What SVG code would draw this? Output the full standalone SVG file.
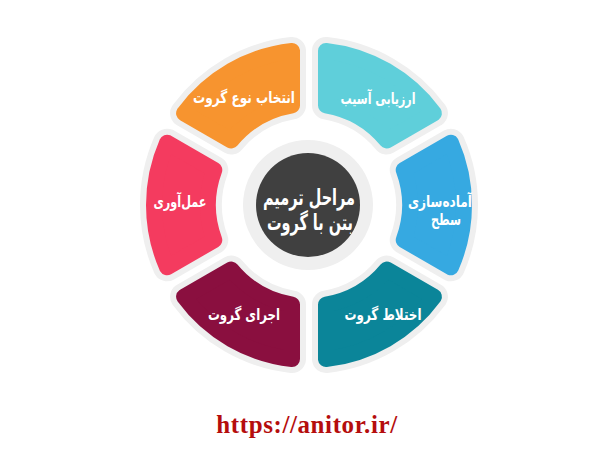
<svg xmlns="http://www.w3.org/2000/svg" xmlns:xlink="http://www.w3.org/1999/xlink" width="600" height="450" viewBox="0 0 600 450">
  <style>
    .border { fill: #efefef; stroke: #efefef; stroke-width: 28; stroke-linejoin: round; }
    .seg { stroke-width: 16; stroke-linejoin: round; }
    .lbl { font-family: "DejaVu Sans", sans-serif; font-weight: bold; font-size: 16px; fill: #ffffff; text-anchor: middle; }
    .ctr { font-family: "DejaVu Sans", sans-serif; font-weight: bold; font-size: 22px; fill: #ffffff; text-anchor: middle; }
    .url { font-family: "Liberation Serif", serif; font-weight: bold; font-size: 25px; fill: #b50d0d; text-anchor: middle; letter-spacing: 0.6px; }
  </style>
  <defs>
    <path id="seg" d="M403.72,169.94 L450.92,142.69 A155,155 0 0 1 450.92,267.31 L403.72,240.06 A101,101 0 0 0 403.72,169.94 Z"/>
  </defs>
  <rect width="600" height="450" fill="#ffffff"/>

  <g id="node-arzyabi">
    <use xlink:href="#seg" class="border" transform="rotate(-60 309 205)"/>
    <use xlink:href="#seg" class="seg" fill="#5fcfda" stroke="#5fcfda" transform="rotate(-60 309 205)"/>
    <text class="lbl" x="378" y="104" textLength="75" lengthAdjust="spacingAndGlyphs">ارزیابی آسیب</text>
  </g>
  <g id="node-amadesazi">
    <use xlink:href="#seg" class="border"/>
    <use xlink:href="#seg" class="seg" fill="#36a9e1" stroke="#36a9e1"/>
    <text class="lbl" x="440" y="207" textLength="64" lengthAdjust="spacingAndGlyphs">آماده‌سازی</text>
    <text class="lbl" x="446" y="225" textLength="30" lengthAdjust="spacingAndGlyphs">سطح</text>
  </g>
  <g id="node-ekhtelat">
    <use xlink:href="#seg" class="border" transform="rotate(60 309 205)"/>
    <use xlink:href="#seg" class="seg" fill="#0b8599" stroke="#0b8599" transform="rotate(60 309 205)"/>
    <text class="lbl" x="383" y="320" textLength="77" lengthAdjust="spacingAndGlyphs">اختلاط گروت</text>
  </g>
  <g id="node-ejra">
    <use xlink:href="#seg" class="border" transform="rotate(120 309 205)"/>
    <use xlink:href="#seg" class="seg" fill="#8a0f3f" stroke="#8a0f3f" transform="rotate(120 309 205)"/>
    <text class="lbl" x="244" y="320" textLength="72" lengthAdjust="spacingAndGlyphs">اجرای گروت</text>
  </g>
  <g id="node-amalavari">
    <use xlink:href="#seg" class="border" transform="rotate(180 309 205)"/>
    <use xlink:href="#seg" class="seg" fill="#f43b5f" stroke="#f43b5f" transform="rotate(180 309 205)"/>
    <text class="lbl" x="180" y="207" textLength="53" lengthAdjust="spacingAndGlyphs">عمل‌آوری</text>
  </g>
  <g id="node-entekhab">
    <use xlink:href="#seg" class="border" transform="rotate(240 309 205)"/>
    <use xlink:href="#seg" class="seg" fill="#f7942f" stroke="#f7942f" transform="rotate(240 309 205)"/>
    <text class="lbl" x="244" y="103" textLength="102" lengthAdjust="spacingAndGlyphs">انتخاب نوع گروت</text>
  </g>

  <g id="node-center">
    <circle cx="308" cy="205" r="65" fill="#efefef"/>
    <circle cx="308" cy="205" r="52" fill="#404040"/>
    <text class="ctr" x="309" y="205" textLength="92" lengthAdjust="spacingAndGlyphs">مراحل ترمیم</text>
    <text class="ctr" x="310" y="230" textLength="86" lengthAdjust="spacingAndGlyphs">بتن با گروت</text>
  </g>

  <g id="connectors"/>

  <text class="url" x="307" y="433">https://anitor.ir/</text>
</svg>
